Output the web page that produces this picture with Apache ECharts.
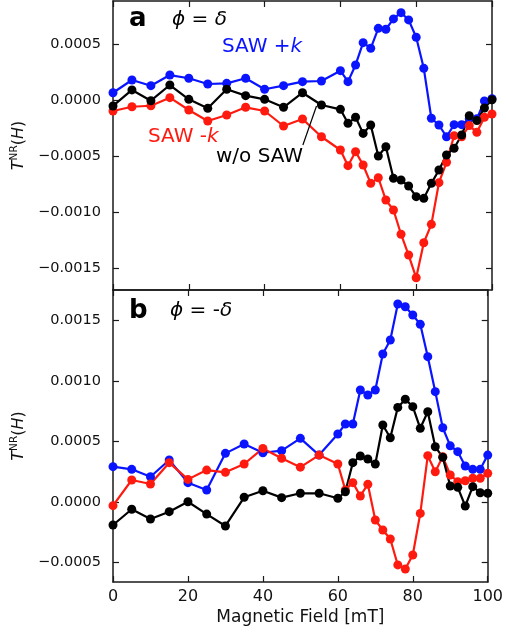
<!DOCTYPE html>
<html>
<head>
<meta charset="utf-8">
<script src="https://cdn.jsdelivr.net/npm/echarts@6/dist/echarts.min.js"></script>
<style>
  html, body { margin: 0; padding: 0; background: #fff; }
  #chart { width: 506px; height: 636px; }
</style>
</head>
<body>
<div id="chart"></div>
<script>
// Magnetic field sweep [mT]: 5 mT steps up to 60, then 2 mT steps
const fieldMT = [0, 5, 10, 15, 20, 25, 30, 35, 40, 45, 50, 55, 60,
  62, 64, 66, 68, 70, 72, 74, 76, 78, 80, 82, 84, 86, 88, 90, 92, 94, 96, 98, 100];

// Panel a: phi = delta
const sawPlusA = [0.000063, 0.000177, 0.000126, 0.000221, 0.000192, 0.000141, 0.000147, 0.000192, 0.000094, 0.000126,
  0.000162, 0.000168, 0.00026, 0.000162, 0.000311, 0.00051, 0.00046, 0.000638, 0.00063, 0.000722,
  0.000778, 0.000713, 0.000558, 0.000281, -0.000165, -0.000225, -0.00033, -0.000222, -0.000222, -0.00017,
  -0.00017, -0.00001, 0.00001];
const sawMinusA = [-0.0001, -0.000062, -0.000053, 0.000019, -0.000091, -0.000189, -0.000136, -0.000067, -0.0001, -0.000234,
  -0.000171, -0.00033, -0.000448, -0.000588, -0.000463, -0.000582, -0.000746, -0.000696, -0.000895, -0.000984,
  -0.0012, -0.001386, -0.001589, -0.001276, -0.001112, -0.00074, -0.000558, -0.00032, -0.00033, -0.00023,
  -0.00029, -0.000156, -0.000127];
const noSawA = [-0.000055, 0.000088, -0.000008, 0.000132, 0.000004, -0.000076, 0.000094, 0.000037, 0.000004, -0.000067,
  0.000063, -0.000046, -0.000085, -0.00021, -0.000156, -0.0003, -0.000225, -0.000502, -0.000419, -0.000701,
  -0.000716, -0.00077, -0.000865, -0.00088, -0.000746, -0.000627, -0.000493, -0.000433, -0.000314, -0.000142,
  -0.000185, -0.000073, 0.0];

// Panel b: phi = -delta
const sawPlusB = [0.000292, 0.00027, 0.000209, 0.000347, 0.00016, 0.000099, 0.000402, 0.000479, 0.000407, 0.000424,
  0.000526, 0.000388, 0.000562, 0.000645, 0.000645, 0.000926, 0.000884, 0.000926, 0.001223, 0.001339,
  0.001636, 0.001614, 0.001545, 0.001468, 0.001201, 0.000912, 0.000614, 0.000464, 0.000416, 0.000298,
  0.00027, 0.00027, 0.000388];
const sawMinusB = [-0.00003, 0.000182, 0.000149, 0.000325, 0.000187, 0.000264, 0.000245, 0.000314, 0.000443, 0.000361,
  0.000288, 0.000388, 0.000314, 0.0001, 0.00016, 0.00005, 0.000146, -0.000149, -0.000231, -0.000306,
  -0.00052, -0.000554, -0.000438, -0.000094, 0.000383, 0.00025, 0.000375, 0.000223, 0.000168, 0.000176,
  0.000196, 0.000196, 0.000237];
const noSawB = [-0.00019, -0.00006, -0.00014, -0.00008, 0.000002, -0.0001, -0.000198, 0.000039, 0.000093, 0.000036,
  0.000072, 0.000072, 0.000031, 0.000085, 0.000325, 0.00038, 0.000355, 0.000314, 0.000636, 0.000531,
  0.000782, 0.000849, 0.000788, 0.000609, 0.000746, 0.000457, 0.000369, 0.000132, 0.000121, -0.000033,
  0.000127, 0.000077, 0.000072];

// Tick values
const xTicks = [0, 20, 40, 60, 80, 100];
const yTicksA = [-0.0015, -0.001, -0.0005, 0, 0.0005];
const yTicksB = [-0.0005, 0, 0.0005, 0.001, 0.0015];

// Leader from the "w/o SAW" label to its trace (data units)
const leaderA = [[50.1, -0.000404], [53.7, -0.000055]];

const FONT = 'DejaVu Sans';
const BLUE = '#0a14ff';
const RED = '#ff1a0f';
const BLACK = '#000000';
const AXIS = '#1a1a1a';

const fmtY = v => (v < 0 ? '\u2212' : '') + Math.abs(v).toFixed(4);
const pairs = ys => fieldMT.map((x, i) => [x, ys[i]]);

function xAxisFor(grid, pos, withLabels) {
  return {
    type: 'value', gridIndex: grid, position: pos, min: 0, max: 100, interval: 20,
    axisLine: { show: true, onZero: false, lineStyle: { color: AXIS, width: 1.5 } },
    axisTick: { show: true, inside: true, length: 6, customValues: xTicks, lineStyle: { color: AXIS, width: 1.2 } },
    axisLabel: withLabels
      ? { show: true, customValues: xTicks, fontFamily: FONT, fontSize: 16, color: '#111', margin: 7 }
      : { show: false },
    splitLine: { show: false },
    name: withLabels ? 'Magnetic Field [mT]' : '',
    nameLocation: 'middle', nameGap: 27,
    nameTextStyle: { fontFamily: FONT, fontSize: 17, color: '#111' }
  };
}

function yAxisFor(grid, pos, min, max, ticks, withLabels) {
  return {
    type: 'value', gridIndex: grid, position: pos, min: min, max: max,
    axisLine: { show: true, onZero: false, lineStyle: { color: AXIS, width: 1.5 } },
    axisTick: { show: true, inside: true, length: 6, customValues: ticks, lineStyle: { color: AXIS, width: 1.2 } },
    axisLabel: withLabels
      ? { show: true, customValues: ticks, formatter: fmtY, fontFamily: FONT, fontSize: 14.5, color: '#111', margin: 12 }
      : { show: false },
    splitLine: { show: false },
    name: withLabels ? '{i|T}{s|NR}{n|(}{i|H}{n|)}' : '',
    nameLocation: 'middle', nameGap: 70, nameRotate: 90,
    nameTextStyle: {
      fontFamily: FONT, fontSize: 15, color: '#111',
      rich: {
        i: { fontFamily: FONT, fontSize: 16, fontStyle: 'italic', color: '#111', lineHeight: 18, verticalAlign: 'bottom' },
        n: { fontFamily: FONT, fontSize: 16, color: '#111', lineHeight: 18, verticalAlign: 'bottom' },
        s: { fontFamily: FONT, fontSize: 10.5, color: '#111', lineHeight: 18, verticalAlign: 'top' }
      }
    }
  };
}

function lineSeries(name, xi, yi, ys, color, extra) {
  return Object.assign({
    name: name, type: 'line', xAxisIndex: xi, yAxisIndex: yi,
    data: pairs(ys),
    symbol: 'circle', symbolSize: 9, showSymbol: true,
    lineStyle: { color: color, width: 2.2 },
    itemStyle: { color: color },
    emphasis: { disabled: true },
    animation: false
  }, extra || {});
}

const txt = (x, y, text, size, color, rich, bold) => ({
  type: 'text', x: x, y: y, silent: true,
  style: {
    text: text, fill: color, fontFamily: FONT, fontSize: size,
    fontWeight: bold ? 'bold' : 'normal', textVerticalAlign: 'top', rich: rich || {}
  }
});

const richPhi = {
  it: { fontFamily: FONT, fontSize: 20, fontStyle: 'italic', color: BLACK },
  rm: { fontFamily: FONT, fontSize: 20, color: BLACK }
};

const chart = echarts.init(document.getElementById('chart'), null, { renderer: 'canvas' });
chart.setOption({
  backgroundColor: '#ffffff',
  animation: false,
  grid: [
    { left: 113, right: 14, top: 1, height: 289 },
    { left: 113, right: 14, top: 290, height: 292 }
  ],
  xAxis: [
    xAxisFor(0, 'bottom', false),
    xAxisFor(0, 'top', false),
    xAxisFor(1, 'bottom', true),
    xAxisFor(1, 'top', false)
  ],
  yAxis: [
    yAxisFor(0, 'left', -0.001698, 0.000882, yTicksA, true),
    yAxisFor(0, 'right', -0.001698, 0.000882, yTicksA, false),
    yAxisFor(1, 'left', -0.000661, 0.001752, yTicksB, true),
    yAxisFor(1, 'right', -0.000661, 0.001752, yTicksB, false)
  ],
  series: [
    lineSeries('SAW +k (a)', 0, 0, sawPlusA, BLUE),
    lineSeries('SAW -k (a)', 0, 0, sawMinusA, RED),
    lineSeries('w/o SAW (a)', 0, 0, noSawA, BLACK, {
      markLine: {
        silent: true, symbol: 'none', animation: false,
        label: { show: false },
        lineStyle: { color: BLACK, width: 1.2, type: 'solid' },
        data: [[{ coord: leaderA[0] }, { coord: leaderA[1] }]]
      }
    }),
    lineSeries('SAW +k (b)', 2, 2, sawPlusB, BLUE),
    lineSeries('SAW -k (b)', 2, 2, sawMinusB, RED),
    lineSeries('w/o SAW (b)', 2, 2, noSawB, BLACK)
  ],
  graphic: [
    txt(129, 6, 'a', 26, BLACK, null, true),
    txt(172, 10, '{it|\u03d5} {rm|=} {it|\u03b4}', 20, BLACK, richPhi),
    txt(222, 37, '{b|SAW +}{bi|k}', 20, BLUE, {
      b: { fontFamily: FONT, fontSize: 20, color: BLUE },
      bi: { fontFamily: FONT, fontSize: 20, color: BLUE, fontStyle: 'italic' }
    }),
    txt(148, 127, '{r|SAW -}{ri|k}', 20, RED, {
      r: { fontFamily: FONT, fontSize: 20, color: RED },
      ri: { fontFamily: FONT, fontSize: 20, color: RED, fontStyle: 'italic' }
    }),
    txt(216, 147, 'w/o SAW', 20, BLACK),
    txt(129, 298, 'b', 26, BLACK, null, true),
    txt(170, 301, '{it|\u03d5} {rm|=} {rm|-}{it|\u03b4}', 20, BLACK, richPhi)
  ]
});
</script>
</body>
</html>
